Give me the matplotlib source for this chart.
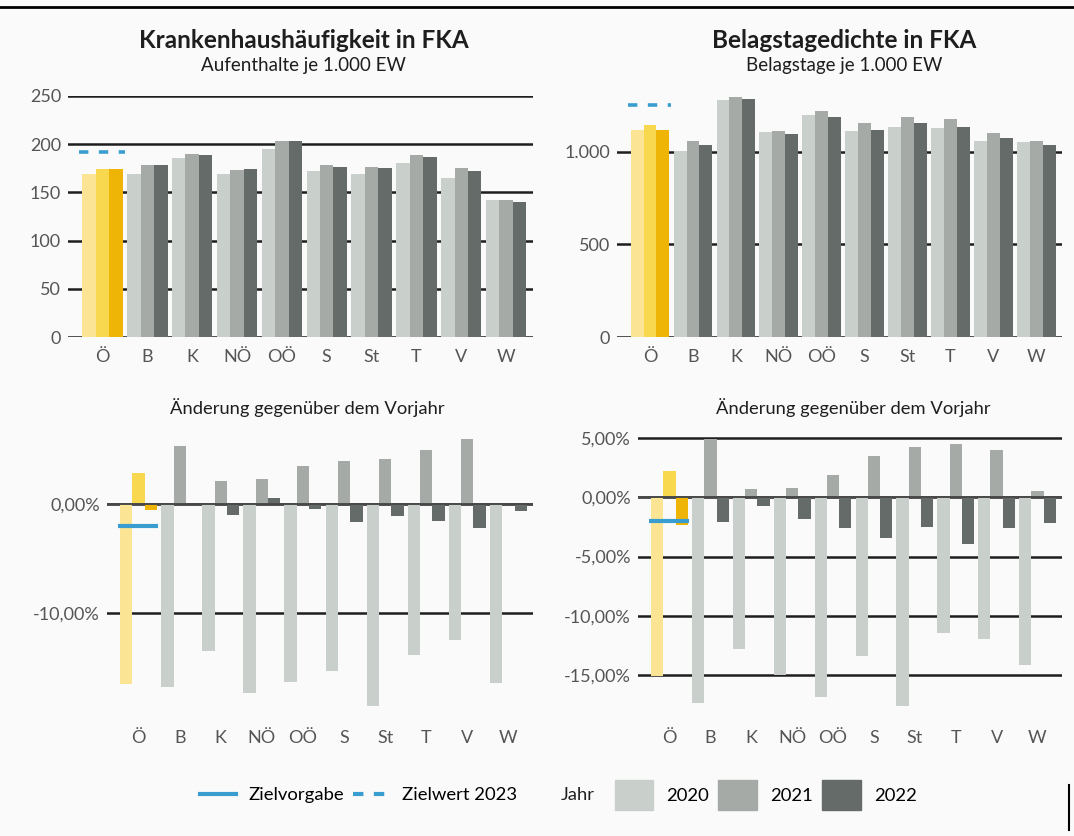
import numpy as np
import matplotlib.pyplot as plt
from matplotlib.lines import Line2D
from matplotlib.patches import Patch

plt.rcParams['font.family'] = ['Lato', 'DejaVu Sans']

# Bundesländer / Regionen
regionen = ["Ö", "B", "K", "NÖ", "OÖ", "S", "St", "T", "V", "W"]
jahre = ["2020", "2021", "2022"]

# Krankenhaushäufigkeit in FKA (Aufenthalte je 1.000 EW)
kh_2020 = [169, 169, 186, 169, 195, 172, 169, 181, 165, 142]
kh_2021 = [174, 178, 190, 173, 203, 178, 176, 189, 175, 142]
kh_2022 = [174, 178, 189, 174, 203, 176, 175, 187, 172, 140]
kh_zielwert_2023 = 192

# Belagstagedichte in FKA (Belagstage je 1.000 EW)
bt_2020 = [1116, 1004, 1279, 1104, 1196, 1112, 1134, 1127, 1055, 1052]
bt_2021 = [1143, 1057, 1293, 1111, 1218, 1152, 1186, 1177, 1102, 1057]
bt_2022 = [1118, 1036, 1282, 1093, 1188, 1114, 1154, 1134, 1071, 1034]
bt_zielwert_2023 = 1254

# Änderung gegenüber dem Vorjahr (%)
kh_d2020 = [-16.5, -16.7, -13.4, -17.3, -16.3, -15.3, -18.5, -13.8, -12.4, -16.4]
kh_d2021 = [2.9, 5.3, 2.1, 2.3, 3.5, 4.0, 4.1, 5.0, 6.0, 0.0]
kh_d2022 = [-0.5, 0.0, -1.0, 0.55, -0.4, -1.65, -1.05, -1.5, -2.2, -0.65]
kh_zielvorgabe = -2.0

bt_d2020 = [-15.1, -17.4, -12.8, -15.05, -16.9, -13.4, -17.6, -11.5, -12.0, -14.2]
bt_d2021 = [2.2, 4.9, 0.67, 0.76, 1.9, 3.5, 4.3, 4.5, 4.0, 0.53]
bt_d2022 = [-2.3, -2.05, -0.7, -1.83, -2.6, -3.45, -2.5, -3.9, -2.6, -2.2]
bt_zielvorgabe = -2.0

# Farben
grau = ["#c9cfcb", "#a5aaa7", "#646b68"]
gelb = ["#fbe594", "#f8d84e", "#eeb406"]
blau = "#3a9dcf"
tick_col = "#555555"
text_col = "#1e1e1e"

fig = plt.figure(figsize=(10.74, 8.36), dpi=100)
fig.patch.set_facecolor("#fafafa")

W, H = 1074, 836
def px_axes(l, t, r, b):
    return fig.add_axes([l / W, 1 - b / H, (r - l) / W, (b - t) / H])

ax_kh = px_axes(68, 96, 533, 337)
ax_bt = px_axes(617, 96, 1062, 337)
ax_khd = px_axes(107, 430, 533, 715)
ax_btd = px_axes(638, 430, 1062, 715)

x = np.arange(len(regionen))
bw = 0.3


def bars(ax, serien):
    for i, werte in enumerate(serien):
        farben = [gelb[i] if r == "Ö" else grau[i] for r in regionen]
        ax.bar(x + (i - 1) * bw, werte, width=bw, color=farben, zorder=2)


def style(ax, ticks, labels, pad_x):
    ax.set_facecolor("none")
    for s in ax.spines.values():
        s.set_visible(False)
    ax.set_yticks(ticks)
    ax.set_yticklabels(labels)
    ax.set_xticks(x)
    ax.set_xticklabels(regionen)
    ax.tick_params(axis="both", length=0, colors=tick_col, labelsize=13)
    ax.tick_params(axis="x", pad=pad_x)
    ax.tick_params(axis="y", pad=5)
    ax.yaxis.grid(True, color="#1e1e1e", lw=1.8, zorder=0)
    ax.set_axisbelow(True)
    ax.set_xlim(-0.77, 9.6)


# Oben links
bars(ax_kh, [kh_2020, kh_2021, kh_2022])
style(ax_kh, [0, 50, 100, 150, 200, 250], ["0", "50", "100", "150", "200", "250"], 9)
ax_kh.set_ylim(0, 250)
ax_kh.hlines(kh_zielwert_2023, -0.52, 0.5, colors=blau, lw=2.6,
             linestyles=(0, (2.6, 2.9)), zorder=4)

# Oben rechts
bars(ax_bt, [bt_2020, bt_2021, bt_2022])
style(ax_bt, [0, 500, 1000], ["0", "500", "1.000"], 9)
ax_bt.set_ylim(0, 1300)
ax_bt.hlines(bt_zielwert_2023, -0.52, 0.5, colors=blau, lw=2.6,
             linestyles=(0, (2.6, 2.9)), zorder=4)

# Unten links
bars(ax_khd, [kh_d2020, kh_d2021, kh_d2022])
style(ax_khd, [0, -10], ["0,00%", "-10,00%"], 11)
ax_khd.set_ylim(-19.3, 6.8)
ax_khd.axhline(0, color="#4a4a4a", lw=1.4, zorder=3)
ax_khd.hlines(kh_zielvorgabe, -0.5, 0.47, colors=blau, lw=3, zorder=4)

# Unten rechts
bars(ax_btd, [bt_d2020, bt_d2021, bt_d2022])
style(ax_btd, [5, 0, -5, -10, -15], ["5,00%", "0,00%", "-5,00%", "-10,00%", "-15,00%"], 11)
ax_btd.set_ylim(-18.4, 5.7)
ax_btd.axhline(0, color="#4a4a4a", lw=1.4, zorder=3)
ax_btd.hlines(bt_zielvorgabe, -0.5, 0.47, colors=blau, lw=3, zorder=4)

# Titel
fig.text(304 / W, 1 - 40 / H, "Krankenhaushäufigkeit in FKA", ha="center", va="center",
         fontsize=17.5, fontweight="bold", color=text_col)
fig.text(303 / W, 1 - 66 / H, "Aufenthalte je 1.000 EW", ha="center", va="center",
         fontsize=13.5, color=text_col)
fig.text(844 / W, 1 - 40 / H, "Belagstagedichte in FKA", ha="center", va="center",
         fontsize=17.5, fontweight="bold", color=text_col)
fig.text(844 / W, 1 - 66 / H, "Belagstage je 1.000 EW", ha="center", va="center",
         fontsize=13.5, color=text_col)
fig.text(307 / W, 1 - 408 / H, "Änderung gegenüber dem Vorjahr", ha="center", va="center",
         fontsize=13.2, color=text_col)
fig.text(853 / W, 1 - 408 / H, "Änderung gegenüber dem Vorjahr", ha="center", va="center",
         fontsize=13.2, color=text_col)

# Linie oben
fig.add_artist(Line2D([0, 1], [1 - 7 / H, 1 - 7 / H], color="black", lw=2))
fig.add_artist(Line2D([1069 / W, 1069 / W], [1 - 785 / H, 1 - 830 / H], color="black", lw=1.5))

# Legende
h_linien = [Line2D([], [], color=blau, lw=3),
            Line2D([], [], color=blau, lw=3, linestyle=(0, (2.5, 2.5)))]
fig.legend(h_linien, ["Zielvorgabe", "Zielwert 2023"], loc="center left",
           bbox_to_anchor=(183 / W, 1 - 795 / H), ncol=2, frameon=False,
           fontsize=13.3, handlelength=1.95, columnspacing=0.5, handletextpad=0.7)
fig.text(561 / W, 1 - 795 / H, "Jahr", ha="left", va="center", fontsize=13.3, color=text_col)
h_jahre = [Patch(color=c) for c in grau]
fig.legend(h_jahre, jahre, loc="center left", bbox_to_anchor=(598 / W, 1 - 795 / H),
           ncol=3, frameon=False, fontsize=13.3, handlelength=2.1, handleheight=2.1,
           columnspacing=0.5, handletextpad=0.7)

fig.savefig("out.png", dpi=100, facecolor=fig.get_facecolor())
